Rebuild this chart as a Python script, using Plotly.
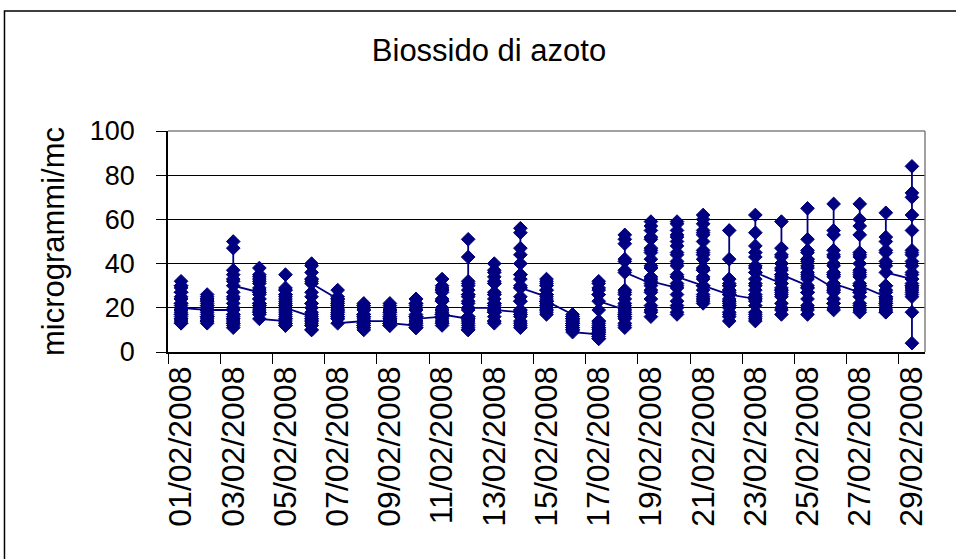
import plotly.graph_objects as go

# hourly NO2 values (microgrammi/mc), 24 per day, February 2008
feb01 = [17, 15, 14, 13, 13, 15, 19, 24, 30, 32, 27, 22, 19, 17, 16, 18, 21, 25, 29, 30, 27, 24, 22, 20]
feb02 = [19, 18, 16, 15, 14, 14, 16, 20, 24, 26, 23, 19, 16, 14, 13, 14, 17, 21, 24, 25, 23, 22, 21, 19]
feb03 = [19, 17, 15, 13, 11, 12, 16, 22, 27, 24, 20, 17, 14, 13, 15, 19, 25, 33, 47, 50, 37, 35, 32, 30]
feb04 = [27, 24, 21, 19, 17, 18, 22, 29, 35, 38, 33, 28, 24, 21, 20, 22, 26, 31, 34, 32, 27, 22, 18, 15]
feb05 = [14, 13, 12, 12, 13, 15, 19, 24, 28, 26, 22, 18, 16, 15, 17, 21, 26, 29, 35, 28, 25, 23, 21, 20]
feb06 = [16, 14, 12, 10, 10, 12, 15, 20, 25, 22, 18, 15, 13, 14, 17, 22, 27, 33, 39, 40, 36, 33, 32, 31]
feb07 = [24, 22, 20, 18, 16, 17, 20, 24, 28, 25, 21, 18, 16, 15, 16, 19, 22, 24, 23, 21, 19, 17, 15, 13]
feb08 = [14, 13, 12, 11, 10, 11, 13, 17, 21, 22, 19, 16, 14, 12, 12, 14, 17, 20, 21, 19, 17, 16, 15, 14]
feb09 = [14, 13, 12, 12, 12, 13, 15, 18, 21, 22, 19, 16, 14, 13, 13, 15, 18, 20, 19, 17, 16, 15, 14, 13]
feb10 = [12, 11, 11, 11, 12, 13, 16, 20, 24, 22, 19, 16, 14, 13, 14, 16, 19, 22, 24, 21, 19, 17, 16, 15]
feb11 = [16, 15, 14, 13, 12, 13, 17, 23, 29, 33, 28, 23, 19, 17, 16, 19, 24, 28, 30, 27, 23, 20, 18, 17]
feb12 = [15, 13, 11, 10, 10, 12, 16, 22, 28, 31, 26, 20, 16, 14, 15, 19, 25, 32, 43, 51, 30, 26, 23, 20]
feb13 = [20, 18, 16, 14, 13, 14, 18, 24, 31, 36, 32, 26, 22, 19, 18, 21, 27, 34, 40, 37, 31, 26, 22, 19]
feb14 = [18, 16, 14, 12, 11, 13, 17, 23, 30, 35, 29, 23, 19, 17, 19, 25, 33, 40, 47, 54, 56, 44, 35, 29]
feb15 = [25, 23, 21, 19, 18, 17, 19, 23, 28, 32, 30, 26, 23, 21, 20, 22, 26, 30, 33, 31, 28, 26, 24, 23]
feb16 = [17, 15, 14, 13, 12, 12, 13, 15, 16, 15, 13, 12, 11, 10, 10, 11, 13, 15, 16, 14, 12, 11, 10, 9]
feb17 = [8, 7, 6, 6, 7, 8, 10, 12, 14, 13, 11, 10, 9, 9, 11, 14, 19, 26, 29, 32, 31, 28, 26, 23]
feb18 = [19, 17, 15, 13, 11, 12, 16, 21, 26, 28, 24, 20, 17, 16, 18, 22, 27, 37, 42, 49, 51, 53, 41, 36]
feb19 = [31, 28, 24, 21, 18, 16, 19, 27, 38, 47, 52, 45, 38, 33, 30, 34, 42, 51, 57, 59, 55, 46, 39, 32]
feb20 = [29, 26, 23, 20, 18, 17, 21, 30, 41, 50, 55, 48, 40, 34, 31, 35, 44, 53, 58, 59, 52, 45, 39, 34]
feb21 = [30, 28, 26, 24, 23, 22, 25, 33, 44, 53, 58, 50, 42, 37, 34, 38, 46, 55, 60, 62, 54, 45, 37, 30]
feb22 = [26, 24, 21, 18, 16, 14, 17, 22, 28, 33, 30, 26, 23, 21, 20, 23, 27, 31, 42, 55, 33, 30, 28, 26]
feb23 = [24, 21, 18, 16, 15, 14, 17, 23, 30, 36, 33, 28, 25, 24, 26, 31, 38, 45, 54, 62, 48, 43, 39, 36]
feb24 = [31, 28, 25, 22, 19, 17, 20, 26, 33, 38, 35, 31, 28, 27, 29, 34, 40, 44, 47, 59, 43, 40, 37, 35]
feb25 = [30, 27, 24, 21, 19, 17, 20, 27, 35, 42, 38, 33, 29, 27, 29, 34, 41, 45, 51, 65, 46, 42, 39, 36]
feb26 = [29, 27, 24, 22, 20, 19, 22, 28, 36, 44, 40, 34, 30, 28, 30, 35, 43, 53, 55, 67, 46, 39, 35, 31]
feb27 = [27, 25, 22, 20, 19, 18, 21, 27, 35, 43, 40, 34, 30, 28, 31, 37, 45, 53, 60, 67, 57, 44, 36, 30]
feb28 = [25, 23, 21, 19, 18, 18, 20, 24, 28, 30, 27, 24, 22, 22, 25, 30, 39, 46, 50, 63, 52, 45, 41, 36]
feb29 = [33, 30, 28, 27, 26, 25, 29, 35, 41, 45, 39, 33, 30, 31, 36, 46, 55, 62, 70, 72, 84, 44, 18, 4]

days = ["%02d/02/2008" % d for d in range(1, 30)]
hourly = [feb01, feb02, feb03, feb04, feb05, feb06, feb07, feb08, feb09, feb10,
          feb11, feb12, feb13, feb14, feb15, feb16, feb17, feb18, feb19, feb20,
          feb21, feb22, feb23, feb24, feb25, feb26, feb27, feb28, feb29]

# every hour of a day sits on that day's category
x = [day for day, vals in zip(days, hourly) for _ in vals]
y = [v for vals in hourly for v in vals]

navy = "#000080"
font = "Liberation Sans, Arial, sans-serif"

fig = go.Figure()
fig.add_trace(go.Scatter(
    x=x, y=y, mode="lines+markers",
    line=dict(color=navy, width=1.8),
    marker=dict(symbol="diamond", size=10.5, color=navy, line=dict(color=navy, width=1)),
    showlegend=False, hoverinfo="x+y",
))

fig.update_layout(
    width=956, height=559,
    margin=dict(l=168, r=31, t=131, b=207),
    paper_bgcolor="white", plot_bgcolor="white",
    font=dict(family=font, color="black", size=28),
    title=dict(text="Biossido di azoto", x=489 / 956, xref="container", xanchor="center",
               y=1 - 50 / 559, yref="container", yanchor="middle",
               font=dict(size=31, family=font, color="black")),
    xaxis=dict(
        type="category", categoryorder="array", categoryarray=days,
        range=[-0.5, 28.5], tickmode="linear", tick0=0, dtick=2,
        tickson="boundaries", tickangle=-90,
        ticks="outside", ticklen=10, tickcolor="black", tickwidth=1,
        showline=True, linecolor="black", linewidth=1.5,
        showgrid=False, zeroline=False,
        tickfont=dict(size=32, family=font),
    ),
    yaxis=dict(
        range=[0, 100], tickmode="linear", tick0=0, dtick=20,
        ticks="outside", ticklen=10, tickcolor="black", tickwidth=1,
        showline=True, linecolor="black", linewidth=1.5,
        showgrid=True, gridcolor="black", gridwidth=1, zeroline=False,
        tickfont=dict(size=27, family=font), ticklabelstandoff=16,
        title=dict(text="microgrammi/mc", standoff=16, font=dict(size=31, family=font)),
    ),
    shapes=[
        # gray plot-area border on top and right
        dict(type="line", xref="paper", yref="paper", x0=0, x1=1, y0=1, y1=1,
             line=dict(color="#808080", width=1.5)),
        dict(type="line", xref="paper", yref="paper", x0=1, x1=1, y0=0, y1=1,
             line=dict(color="#808080", width=1.5)),
        # outer chart border
        dict(type="rect", xref="paper", yref="paper", x0=-0.216, x1=1.2, y0=-2, y1=1.543,
             line=dict(color="black", width=1.5), fillcolor="rgba(0,0,0,0)"),
    ],
)

fig.write_html("out.html", config={"displayModeBar": False},
               post_script="document.body.style.margin='0px';")
